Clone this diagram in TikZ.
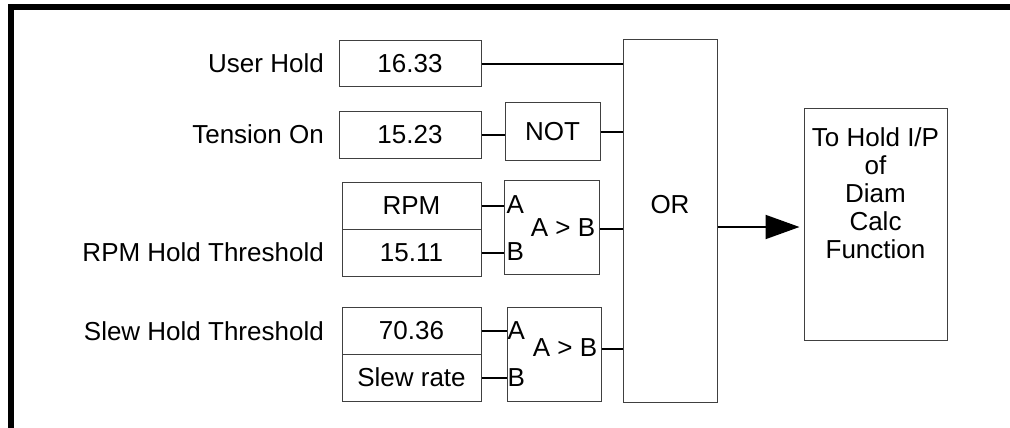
\documentclass[tikz,border=0pt]{standalone}
\usepackage{fontspec}
\setmainfont{Liberation Sans}
\usetikzlibrary{arrows.meta,calc}
\begin{document}
\begin{tikzpicture}[x=1pt,y=-1pt,
  every node/.style={font=\fontsize{26}{28}\selectfont},
  blk/.style={draw=black!75,line width=1pt,rectangle,inner sep=0pt},
  wire/.style={line width=2pt,black},
  lbl/.style={inner sep=0pt,anchor=east},
  pin/.style={inner sep=0pt,anchor=west}]
\useasboundingbox (0,0) rectangle (1010,428);
% frame
\draw[line width=6pt] (11,428) -- (11,7) -- (1010,7);
% input labels
\node[lbl] (luh) at (324,63) {User Hold};
\node[lbl] (lton) at (324,134) {Tension On};
\node[lbl] (lrth) at (324,252) {RPM Hold Threshold};
\node[lbl] (lsth) at (324,331) {Slew Hold Threshold};
% parameter boxes
\node[blk,minimum width=142pt,minimum height=46pt] (uh) at (410,64) {16.33};
\node[blk,minimum width=142pt,minimum height=47pt] (ton) at (410,134.5) {15.23};
\node[blk,minimum width=139pt,minimum height=47pt] (rpm) at (411.5,205.5) {RPM};
\node[blk,minimum width=139pt,minimum height=47pt] (rth) at (411.5,252.5) {15.11};
\node[blk,minimum width=139pt,minimum height=47pt] (sth) at (411.5,330.5) {70.36};
\node[blk,minimum width=139pt,minimum height=47pt] (slr) at (411.5,377.5) {Slew rate};
% logic blocks
\node[blk,minimum width=95pt,minimum height=57pt] (not) at (552.5,131.5) {NOT};
\node[blk,minimum width=95pt,minimum height=94pt] (cmpa) at (551.5,227) {};
\node[blk,minimum width=94pt,minimum height=94pt] (cmpb) at (554,354) {};
\node[blk,minimum width=94pt,minimum height=362pt] (or) at (670,221) {};
\node[blk,minimum width=143pt,minimum height=232pt] (target) at (875.5,224) {};
% texts inside blocks
\node[pin] (cmpaA) at ($(cmpa.north west)+(3,25)$) {A};
\node[pin] (cmpaB) at ($(cmpa.north west)+(3,72)$) {B};
\node[inner sep=0pt] (cmpaT) at ($(cmpa.center)+(11.5,1)$) {A > B};
\node[pin] (cmpbA) at ($(cmpb.north west)+(1,24)$) {A};
\node[pin] (cmpbB) at ($(cmpb.north west)+(1,71)$) {B};
\node[inner sep=0pt] (cmpbT) at ($(cmpb.center)+(11,-6)$) {A > B};
\node[inner sep=0pt] (orT) at ($(or.center)+(0,-16)$) {OR};
\node[inner sep=0pt,anchor=north,align=center] (targetT) at ($(target.north)+(0,19.5)$) {To Hold I/P\\of\\Diam\\Calc\\Function};
% connectors
\draw[wire] (uh.east) -- (uh.east -| or.west);
\draw[wire] (ton.east) -- (ton.east -| not.west);
\draw[wire] (not.east) -- (not.east -| or.west);
\draw[wire] (rpm.east) -- (rpm.east -| cmpa.west);
\draw[wire] (rth.east) -- (rth.east -| cmpa.west);
\coordinate (cmpaout) at ($(cmpa.east)+(0,2)$);
\draw[wire] (cmpaout) -- (cmpaout -| or.west);
\draw[wire] (sth.east) -- (sth.east -| cmpb.west);
\draw[wire] (slr.east) -- (slr.east -| cmpb.west);
\coordinate (cmpbout) at ($(cmpb.east)+(0,-5)$);
\draw[wire] (cmpbout) -- (cmpbout -| or.west);
\coordinate (arrowend) at ($(target.west)+(0,3)$);
\draw[wire,-{Triangle[length=34pt,width=24pt]},shorten >=4pt] (or.east |- arrowend) -- (arrowend);
\end{tikzpicture}
\end{document}
